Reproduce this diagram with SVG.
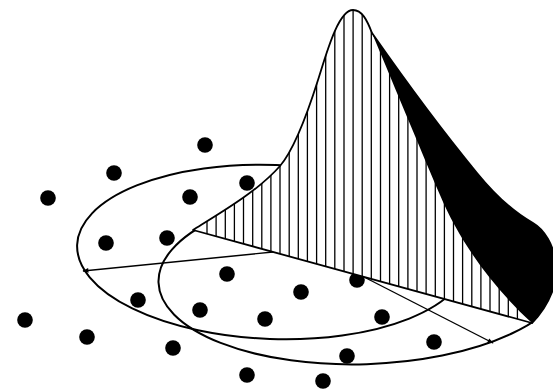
<svg xmlns="http://www.w3.org/2000/svg" width="553" height="389" viewBox="0 0 553 389">
<style>
.ell{fill:none;stroke:#000;stroke-width:2}
.dot{fill:#000}
.arr{fill:none;stroke:#000;stroke-width:1.4}
.hatch{fill:none;stroke:#000;stroke-width:1.3}
.outline{fill:none;stroke:#000;stroke-width:1.8;stroke-linejoin:round}
</style>
<defs>
<marker id="ah" viewBox="0 0 10 10" refX="9" refY="5" markerWidth="7" markerHeight="6" orient="auto" markerUnits="userSpaceOnUse">
<path d="M0,1 L10,5 L0,9 z" fill="#000"/>
</marker>
<clipPath id="below"><polygon points="-10,174.3 600,341.6 600,400 -10,400"/></clipPath>
<path id="surfShape" d="M193,230 C222,212 258,191 280,166 C292,152 306,118 318,80 C326,55 338,10 353,10 C362,10 367,20 372,33 C395,66 440,128 477,173 C495,195 515,213 533,223 C545,230 553,245 556,262 C559,280 550,305 532,323 Z"/>
<clipPath id="surf"><use href="#surfShape"/></clipPath>
</defs>
<rect width="553" height="389" fill="#fff"/>
<g id="base-ellipses">
<ellipse id="ellipse-left" class="ell" cx="273" cy="252" rx="196" ry="87" transform="rotate(2.1 273 252)"/>
<g clip-path="url(#below)">
<ellipse id="ellipse-right" class="ell" cx="364" cy="276" rx="205.6" ry="88.2" transform="rotate(-1.8 364 276)"/>
</g>
</g>
<g id="points">
<circle class="dot" cx="205" cy="145" r="7.8"/>
<circle class="dot" cx="114" cy="173" r="7.8"/>
<circle class="dot" cx="48" cy="198" r="7.8"/>
<circle class="dot" cx="190" cy="197" r="7.8"/>
<circle class="dot" cx="247" cy="183" r="7.8"/>
<circle class="dot" cx="106" cy="243" r="7.8"/>
<circle class="dot" cx="167" cy="238" r="7.8"/>
<circle class="dot" cx="227" cy="274" r="7.8"/>
<circle class="dot" cx="301" cy="292" r="7.8"/>
<circle class="dot" cx="357" cy="280" r="7.8"/>
<circle class="dot" cx="138" cy="300" r="7.8"/>
<circle class="dot" cx="200" cy="310" r="7.8"/>
<circle class="dot" cx="265" cy="319" r="7.8"/>
<circle class="dot" cx="382" cy="317" r="7.8"/>
<circle class="dot" cx="25" cy="320" r="7.8"/>
<circle class="dot" cx="87" cy="337" r="7.8"/>
<circle class="dot" cx="173" cy="348" r="7.8"/>
<circle class="dot" cx="347" cy="356" r="7.8"/>
<circle class="dot" cx="434" cy="342" r="7.8"/>
<circle class="dot" cx="247" cy="375" r="7.8"/>
<circle class="dot" cx="323" cy="381" r="7.8"/>
</g>
<g id="connectors">
<line class="arr" x1="273" y1="252" x2="83" y2="271" marker-end="url(#ah)"/>
<line class="arr" x1="364" y1="277" x2="493" y2="343" marker-end="url(#ah)"/>
</g>
<g id="surface">
<use href="#surfShape" fill="#fff"/>
<path class="hatch" clip-path="url(#surf)" d="M207,0V330M216.1,0V330M225.3,0V330M234.4,0V330M243.5,0V330M252.7,0V330M261.8,0V330M270.9,0V330M280,0V330M289.2,0V330M298.3,0V330M307.4,0V330M316.6,0V330M325.7,0V330M334.8,0V330M344,0V330M353.1,0V330M362.2,0V330M371.3,0V330M380.5,0V330M389.6,0V330M398.7,0V330M407.9,0V330M417,0V330M426.1,0V330M435.3,0V330M444.4,0V330M453.5,0V330M462.6,0V330M471.8,0V330M480.9,0V330M490,0V330M499.2,0V330M508.3,0V330M517.4,0V330"/>
<path id="surface-shadow" fill="#000" d="M372,33 C395,66 440,128 477,173 C495,195 515,213 533,223 C545,230 553,245 556,262 C559,280 550,305 532,323 C490,285 458,238 440,195 C425,160 395,88 372,33 Z"/>
<use href="#surfShape" class="outline"/>
</g>
</svg>
